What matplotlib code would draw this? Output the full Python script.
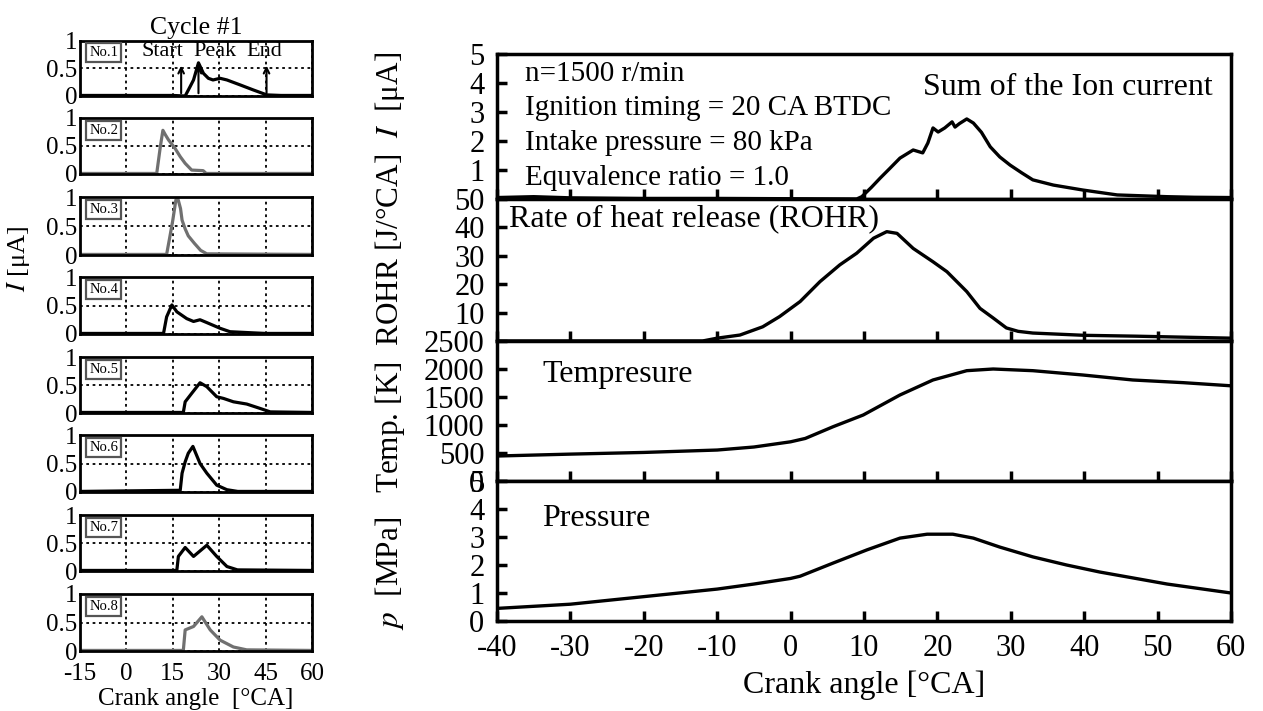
import matplotlib.pyplot as plt

plt.rcParams['font.family'] = ['Liberation Serif', 'DejaVu Serif']
plt.rcParams['mathtext.fontset'] = 'stix'
plt.rcParams['axes.unicode_minus'] = False

# ---- left: ion current per cylinder, cycle #1 ----
cyl_names = ['No.1', 'No.2', 'No.3', 'No.4', 'No.5', 'No.6', 'No.7', 'No.8']
cyl_x = [
    [-15, 0, 15, 19, 20.6, 21.7, 23.3, 24.9, 26.5, 28, 30.3, 32.5, 36.8, 41, 45.4, 50, 60],
    [-15, 9.8, 11, 11.8, 12.6, 13.6, 15.7, 17.4, 19, 21.1, 24.8, 25.8, 60],
    [-15, 13, 14, 15, 16, 16.5, 17.5, 18, 19, 20, 22, 24, 26, 60],
    [-15, 12, 13, 14.7, 16.3, 19.5, 21.7, 23.8, 26, 30.3, 33.5, 41, 45, 60],
    [-15, 18.4, 19, 21.1, 23.8, 26, 29.2, 31.4, 34.6, 38.9, 43.3, 46.5, 60],
    [-15, 17.4, 18, 19, 20, 21.5, 23.8, 26, 29.2, 32.5, 36, 60],
    [-15, 16.3, 16.8, 19, 21.7, 26, 29.2, 32.5, 35.9, 60],
    [-15, 18.4, 19, 21.7, 24.4, 27.1, 30.3, 34.6, 38.9, 60],
]
cyl_y = [
    [0.01, 0.01, 0.01, 0, 0.17, 0.29, 0.6, 0.41, 0.32, 0.29, 0.32, 0.29, 0.2, 0.11, 0.02, 0.01, 0.01],
    [0.01, 0.01, 0.5, 0.78, 0.7, 0.61, 0.46, 0.31, 0.19, 0.07, 0.06, 0.01, 0.01],
    [0.01, 0.01, 0.3, 0.6, 0.95, 1.0, 0.8, 0.6, 0.45, 0.33, 0.2, 0.08, 0.02, 0.01],
    [0.01, 0.01, 0.3, 0.51, 0.39, 0.27, 0.22, 0.25, 0.2, 0.1, 0.04, 0.02, 0.01, 0.01],
    [0.01, 0.01, 0.2, 0.35, 0.54, 0.47, 0.29, 0.26, 0.2, 0.16, 0.08, 0.02, 0.01],
    [0.01, 0.03, 0.33, 0.53, 0.68, 0.8, 0.5, 0.33, 0.12, 0.04, 0.01, 0.01],
    [0.01, 0.01, 0.26, 0.42, 0.26, 0.46, 0.26, 0.08, 0.02, 0.01],
    [0.01, 0.01, 0.37, 0.43, 0.6, 0.37, 0.19, 0.07, 0.02, 0.01],
]
cyl_colors = ['black', '#707070', '#707070', 'black', 'black', 'black', 'black', '#707070']
marks = {'Start': 17.7, 'Peak': 23.3, 'End': 45.3}

# ---- right: summary curves ----
ion_x = [-40, -35, -30, -25, -20, -15, -10, 9, 9.7, 11, 12.2, 13.5, 14.9, 16.7, 18.0, 18.7, 19.4,
         20.1, 21, 22, 22.4, 23, 24.0, 24.9, 26, 27.2, 28.5, 29.9, 31.5, 33.0, 35.8, 39.8, 44.5,
         51.3, 55, 60]
ion_y = [0.05, 0.08, 0.04, 0.03, 0.02, 0.02, 0.02, 0.0, 0.08, 0.4, 0.72, 1.05, 1.41, 1.69, 1.59,
         1.93, 2.45, 2.31, 2.45, 2.66, 2.48, 2.6, 2.76, 2.62, 2.3, 1.8, 1.45, 1.17, 0.9, 0.66, 0.48,
         0.31, 0.14, 0.08, 0.06, 0.05]
rohr_x = [-40, -12, -10, -6.9, -3.8, -1.5, 1.3, 4, 6.7, 9, 11.3, 13.1, 14.5, 16.7, 19.4, 21.3,
          24, 25.8, 27.6, 29.4, 31, 33, 40, 47, 60]
rohr_y = [0, 0, 1, 2.1, 5, 8.6, 13.9, 20.9, 26.8, 30.9, 36.2, 38.5, 37.9, 32.6, 27.9, 24.4,
          17.4, 11.5, 8.1, 4.6, 3.4, 2.8, 2.0, 1.7, 1.0]
temp_x = [-40, -30, -20, -10, -5, 0, 2, 5.8, 9.9, 14.9, 19.4, 24, 27.6, 33, 39.8, 46.6, 53.5, 60]
temp_y = [446, 480, 510, 553, 607, 700, 760, 970, 1179, 1536, 1804, 1970, 2000, 1970, 1893,
          1804, 1756, 1700]
pres_x = [-40, -30, -20, -10, -5, 0, 1.3, 5.8, 10.4, 14.9, 18.6, 22.1, 24.9, 28.5, 33, 37.6,
          42.1, 46.6, 51.3, 60]
pres_y = [0.45, 0.6, 0.87, 1.14, 1.32, 1.52, 1.6, 2.07, 2.54, 2.96, 3.1, 3.1, 2.96, 2.64, 2.29,
          2.0, 1.75, 1.54, 1.32, 1.0]

W, H = 1263, 711
fig = plt.figure(figsize=(W / 100, H / 100), dpi=100)


def box(left, top, right, bottom):
    return [left / W, 1 - bottom / H, (right - left) / W, (bottom - top) / H]


# left column
tops = [40.7, 118, 197, 277, 357, 435, 515, 594]
bots = [96, 174, 255, 334, 413, 492, 571, 651]
for i in range(8):
    ax = fig.add_axes(box(80, tops[i], 312, bots[i]))
    ax.plot(cyl_x[i], cyl_y[i], color=cyl_colors[i], lw=2.3)
    ax.set_xlim(-15, 60)
    ax.set_ylim(0, 1)
    ax.set_xticks([-15, 0, 15, 30, 45, 60])
    ax.set_yticks([0, 0.5, 1])
    ax.set_yticklabels(['0', '0.5', '1'])
    ax.grid(True, color='black', linestyle=(0, (1.5, 2)), lw=1.3)
    ax.tick_params(axis='y', length=0, labelsize=18, pad=2)
    ax.tick_params(axis='x', length=0, labelsize=18, pad=9)
    for s in ax.spines.values():
        s.set_linewidth(2)
    if i < 7:
        ax.set_xticklabels([])
    ax.text(0.04, 0.78, cyl_names[i], transform=ax.transAxes, fontsize=10.5, va='center',
            bbox=dict(boxstyle='square,pad=0.2', fc='white', ec='#555555', lw=1.6))
    if i == 0:
        for lab, xv in marks.items():
            ax.annotate('', xy=(xv, 0.6), xytext=(xv, 0),
                        arrowprops=dict(arrowstyle='->', lw=1.5, color='black'))
        ax.text(11.5, 0.8, 'Start', ha='center', va='center', fontsize=16)
        ax.text(28.5, 0.8, 'Peak', ha='center', va='center', fontsize=16)
        ax.text(44.5, 0.8, 'End', ha='center', va='center', fontsize=16)
        ax.set_title('Cycle #1', fontsize=18.5, pad=5)
    if i == 7:
        ax.set_xlabel('Crank angle  [°CA]', fontsize=18, labelpad=2)

fig.text(18 / W, 1 - 259 / H, r'$I$ [μA]', rotation=90, ha='center', va='center', fontsize=19)

# right column
ptops = [54, 199, 341, 481]
pbots = [199, 341, 481, 621]
series = [(ion_x, ion_y, (0, 5), [1, 2, 3, 4, 5]),
          (rohr_x, rohr_y, (0, 50), [10, 20, 30, 40, 50]),
          (temp_x, temp_y, (0, 2500), [0, 500, 1000, 1500, 2000, 2500]),
          (pres_x, pres_y, (0, 5), [0, 1, 2, 3, 4, 5])]
for i, (xs, ys, lim, yt) in enumerate(series):
    ax = fig.add_axes(box(497, ptops[i], 1231, pbots[i]))
    ax.plot(xs, ys, color='black', lw=2.4)
    ax.set_xlim(-40, 60)
    ax.set_ylim(*lim)
    ax.set_xticks(range(-40, 61, 10))
    ax.set_yticks(yt)
    ax.tick_params(direction='in', length=7, width=2.5, labelsize=22, pad=9,
                   top=False, right=False)
    for s in ax.spines.values():
        s.set_linewidth(2.5)
    if i < 3:
        ax.set_xticklabels([])
    else:
        ax.set_xlabel('Crank angle [°CA]', fontsize=23, labelpad=6)
    if i == 0:
        ax.text(0.038, 0.86, 'n=1500 r/min', transform=ax.transAxes, fontsize=21, va='center')
        ax.text(0.038, 0.625, 'Ignition timing = 20 CA BTDC', transform=ax.transAxes,
                fontsize=21, va='center')
        ax.text(0.038, 0.385, 'Intake pressure = 80 kPa', transform=ax.transAxes,
                fontsize=21, va='center')
        ax.text(0.038, 0.145, 'Equvalence ratio = 1.0', transform=ax.transAxes,
                fontsize=21, va='center')
        ax.text(0.975, 0.77, 'Sum of the Ion current', transform=ax.transAxes, fontsize=23,
                va='center', ha='right')
    elif i == 1:
        ax.text(0.017, 0.86, 'Rate of heat release (ROHR)', transform=ax.transAxes,
                fontsize=23, va='center')
    elif i == 2:
        ax.text(0.062, 0.76, 'Tempresure', transform=ax.transAxes, fontsize=23, va='center')
    else:
        ax.text(0.062, 0.73, 'Pressure', transform=ax.transAxes, fontsize=23, va='center')

fig.text(390 / W, 1 - 341 / H, r'$p$  [MPa]   Temp. [K]  ROHR [J/°CA]  $I$  [μA]', rotation=90,
         ha='center', va='center', fontsize=22.5)

fig.savefig('out.png', dpi=100)
